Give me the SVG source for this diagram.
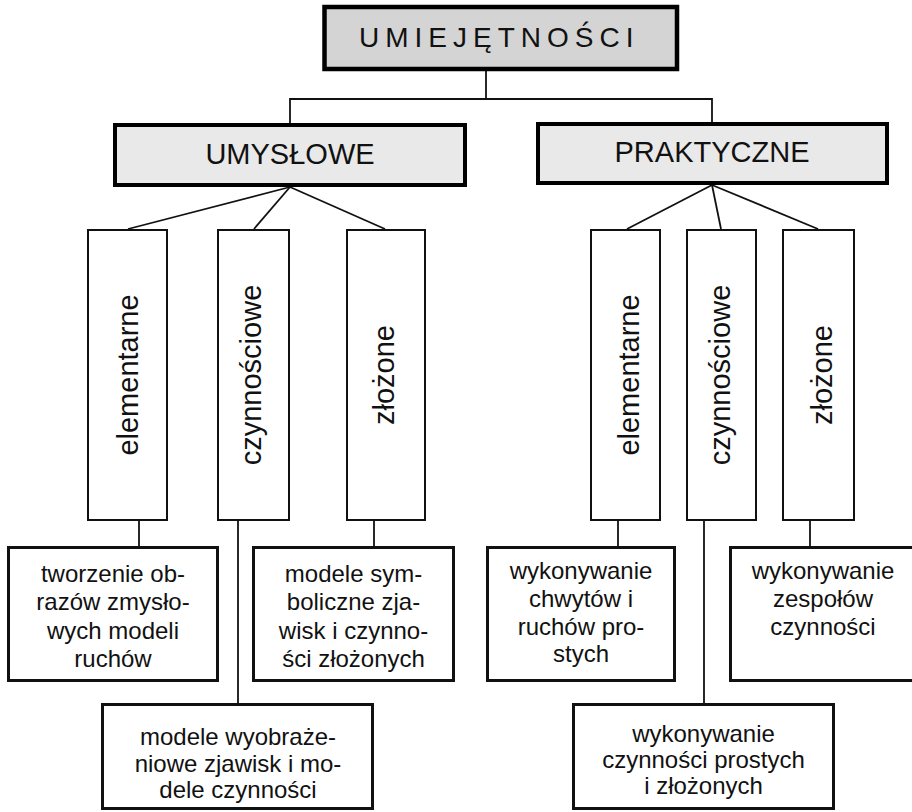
<svg xmlns="http://www.w3.org/2000/svg" width="912" height="812" viewBox="0 0 912 812">
  <style>
    text { font-family: "Liberation Sans", Arial, sans-serif; fill: #111; }
    .root { fill: #d4d4d4; stroke: #000; stroke-width: 4.5; }
    .cat { fill: #e9e9e9; stroke: #000; stroke-width: 4; }
    .kind { fill: #fff; stroke: #111; stroke-width: 2; }
    .leaf { fill: #fff; stroke: #111; stroke-width: 3; }
    .conn line { stroke: #111; stroke-width: 1.8; fill: none; }
    .t-root { font-size: 28px; letter-spacing: 6px; }
    .t-cat { font-size: 29px; text-anchor: middle; }
    .t-kind { font-size: 29px; text-anchor: middle; }
    .t-leaf { font-size: 24px; text-anchor: middle; }
  </style>
  <rect width="912" height="812" fill="#fff"/>

  <!-- connectors -->
  <g id="connectors" class="conn">
    <line x1="486" y1="71" x2="486" y2="99"/>
    <line x1="290" y1="99" x2="712" y2="99"/>
    <line x1="290" y1="98" x2="290" y2="123"/>
    <line x1="712" y1="98" x2="712" y2="122"/>

    <line x1="290" y1="187" x2="128" y2="229"/>
    <line x1="290" y1="187" x2="254" y2="229"/>
    <line x1="290" y1="187" x2="385" y2="229"/>
    <line x1="712" y1="185" x2="627" y2="229"/>
    <line x1="712" y1="185" x2="721" y2="229"/>
    <line x1="712" y1="185" x2="818" y2="229"/>

    <line x1="139" y1="521" x2="139" y2="546"/>
    <line x1="238" y1="521" x2="238" y2="703"/>
    <line x1="374" y1="521" x2="374" y2="546"/>
    <line x1="618" y1="521" x2="618" y2="546"/>
    <line x1="704" y1="521" x2="704" y2="703"/>
    <line x1="810" y1="521" x2="810" y2="546"/>
  </g>

  <!-- top level -->
  <g id="umiejetnosci">
    <rect class="root" x="324.5" y="7" width="352.5" height="62"/>
    <text class="t-root" x="359" y="47">UMIEJĘTNOŚCI</text>
  </g>

  <!-- categories -->
  <g id="umyslowe">
    <rect class="cat" x="115" y="125" width="350" height="60"/>
    <text class="t-cat" x="290" y="164">UMYSŁOWE</text>
  </g>
  <g id="praktyczne">
    <rect class="cat" x="538" y="124" width="349" height="59"/>
    <text class="t-cat" x="712" y="162">PRAKTYCZNE</text>
  </g>

  <!-- kinds (vertical labels) -->
  <g id="u-elementarne">
    <rect class="kind" x="88" y="230" width="79" height="290"/>
    <text class="t-kind" transform="translate(138,375) rotate(-90)">elementarne</text>
  </g>
  <g id="u-czynnosciowe">
    <rect class="kind" x="218" y="230" width="71" height="290"/>
    <text class="t-kind" transform="translate(261,375) rotate(-90)">czynnościowe</text>
  </g>
  <g id="u-zlozone">
    <rect class="kind" x="347" y="230" width="78" height="290"/>
    <text class="t-kind" transform="translate(394,375) rotate(-90)">złożone</text>
  </g>
  <g id="p-elementarne">
    <rect class="kind" x="591" y="230" width="69" height="290"/>
    <text class="t-kind" transform="translate(639,375) rotate(-90)">elementarne</text>
  </g>
  <g id="p-czynnosciowe">
    <rect class="kind" x="687" y="230" width="69" height="290"/>
    <text class="t-kind" transform="translate(730,375) rotate(-90)">czynnościowe</text>
  </g>
  <g id="p-zlozone">
    <rect class="kind" x="783" y="230" width="71" height="290"/>
    <text class="t-kind" transform="translate(832,375) rotate(-90)">złożone</text>
  </g>

  <!-- leaves -->
  <g id="tworzenie-obrazow">
    <rect class="leaf" x="8.5" y="547.5" width="209" height="133"/>
    <text class="t-leaf" x="113" y="582">tworzenie ob-</text>
    <text class="t-leaf" x="113" y="610">razów zmysło-</text>
    <text class="t-leaf" x="113" y="639">wych modeli</text>
    <text class="t-leaf" x="113" y="667">ruchów</text>
  </g>
  <g id="modele-symboliczne">
    <rect class="leaf" x="253.5" y="547.5" width="200" height="133"/>
    <text class="t-leaf" x="353.5" y="582">modele sym-</text>
    <text class="t-leaf" x="353.5" y="610">boliczne zja-</text>
    <text class="t-leaf" x="353.5" y="639">wisk i czynno-</text>
    <text class="t-leaf" x="353.5" y="667">ści złożonych</text>
  </g>
  <g id="modele-wyobrazeniowe">
    <rect class="leaf" x="102.5" y="704.5" width="270" height="104"/>
    <text class="t-leaf" x="238" y="745">modele wyobraże-</text>
    <text class="t-leaf" x="238" y="772">niowe zjawisk i mo-</text>
    <text class="t-leaf" x="238" y="798">dele czynności</text>
  </g>
  <g id="chwyty-i-ruchy">
    <rect class="leaf" x="487.5" y="547.5" width="187" height="133"/>
    <text class="t-leaf" x="581" y="579">wykonywanie</text>
    <text class="t-leaf" x="581" y="607">chwytów i</text>
    <text class="t-leaf" x="581" y="635">ruchów pro-</text>
    <text class="t-leaf" x="581" y="662">stych</text>
  </g>
  <g id="zespoly-czynnosci">
    <rect class="leaf" x="730.5" y="547.5" width="190" height="133"/>
    <text class="t-leaf" x="823" y="579">wykonywanie</text>
    <text class="t-leaf" x="823" y="607">zespołów</text>
    <text class="t-leaf" x="823" y="635">czynności</text>
  </g>
  <g id="czynnosci-proste">
    <rect class="leaf" x="573.5" y="704.5" width="260" height="104"/>
    <text class="t-leaf" x="703.5" y="742">wykonywanie</text>
    <text class="t-leaf" x="703.5" y="768">czynności prostych</text>
    <text class="t-leaf" x="703.5" y="794">i złożonych</text>
  </g>
</svg>
